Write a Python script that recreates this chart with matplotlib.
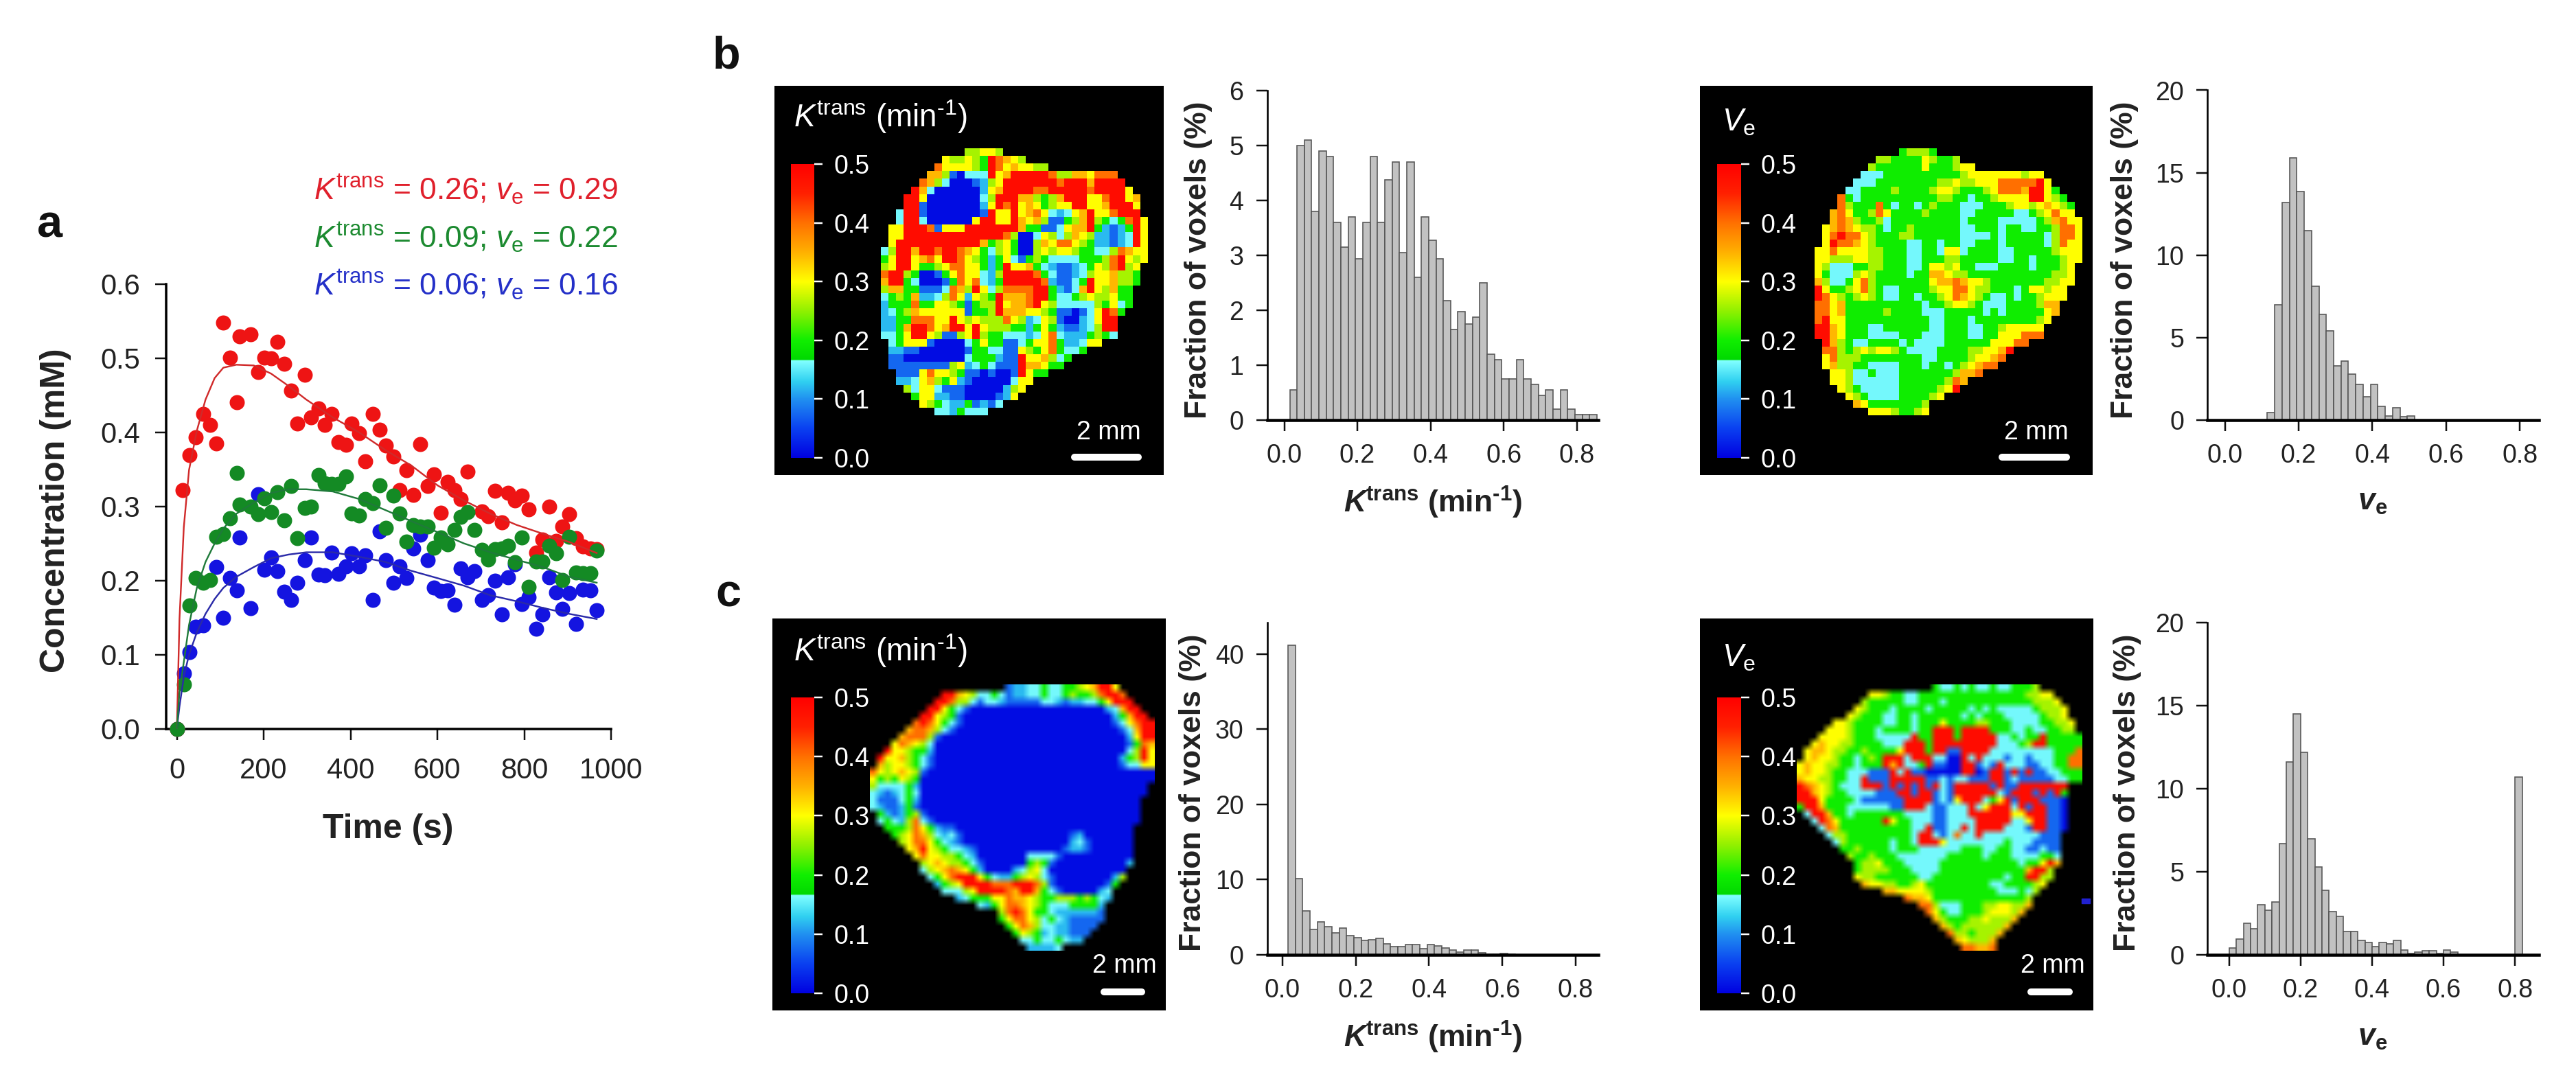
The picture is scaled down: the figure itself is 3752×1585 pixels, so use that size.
import matplotlib

matplotlib.use("Agg")
import matplotlib.pyplot as plt
import numpy as np
from matplotlib.cm import ScalarMappable
from matplotlib.colors import LinearSegmentedColormap, Normalize

plt.rcParams["font.family"] = ["Liberation Sans", "DejaVu Sans"]
plt.rcParams["mathtext.fontset"] = "custom"
plt.rcParams["mathtext.rm"] = "Liberation Sans"
plt.rcParams["mathtext.it"] = "Liberation Sans:italic"
plt.rcParams["mathtext.bf"] = "Liberation Sans:bold"
plt.rcParams["mathtext.bfit"] = "Liberation Sans:italic:bold"

WIDTH, HEIGHT = 3752, 1585
PT = 0.72  # points per image pixel at dpi=100

# panel a: measured concentration
TIME_RED = [0, 13, 29, 44, 60, 77, 91, 107, 122, 138, 144, 170, 187, 202, 217, 232, 248, 263, 278, 294, 309, 326, 341, 357, 372, 389, 403, 419, 434, 451, 467, 482, 498, 513, 529, 545, 560, 577, 592, 608, 623, 639, 654, 670, 702, 717, 732, 748, 763, 779, 794, 810, 827, 842, 857, 873, 888, 903, 919, 935, 952, 967]
CONC_RED = [0, 0.322, 0.369, 0.393, 0.425, 0.41, 0.385, 0.548, 0.501, 0.44, 0.529, 0.532, 0.481, 0.501, 0.5, 0.522, 0.492, 0.456, 0.412, 0.477, 0.42, 0.432, 0.41, 0.425, 0.387, 0.383, 0.412, 0.399, 0.361, 0.425, 0.403, 0.382, 0.367, 0.322, 0.349, 0.315, 0.384, 0.327, 0.343, 0.291, 0.333, 0.322, 0.31, 0.347, 0.293, 0.287, 0.321, 0.278, 0.318, 0.308, 0.314, 0.296, 0.238, 0.255, 0.3, 0.253, 0.273, 0.289, 0.257, 0.246, 0.243, 0.242]
TIME_GREEN = [0, 16, 29, 44, 60, 77, 91, 107, 122, 138, 144, 170, 187, 202, 217, 232, 248, 263, 278, 294, 309, 326, 341, 357, 372, 389, 403, 419, 434, 451, 467, 482, 498, 513, 529, 545, 560, 577, 592, 608, 623, 639, 654, 670, 685, 702, 717, 732, 748, 763, 779, 794, 810, 827, 842, 857, 873, 888, 903, 919, 935, 952, 967]
CONC_GREEN = [0, 0.06, 0.166, 0.203, 0.197, 0.201, 0.259, 0.263, 0.284, 0.345, 0.302, 0.3, 0.289, 0.311, 0.292, 0.319, 0.281, 0.327, 0.257, 0.298, 0.3, 0.342, 0.331, 0.33, 0.33, 0.34, 0.29, 0.288, 0.31, 0.304, 0.328, 0.271, 0.314, 0.29, 0.252, 0.275, 0.273, 0.273, 0.244, 0.258, 0.249, 0.268, 0.286, 0.292, 0.268, 0.241, 0.228, 0.242, 0.243, 0.247, 0.225, 0.258, 0.191, 0.226, 0.226, 0.247, 0.237, 0.201, 0.259, 0.211, 0.21, 0.21, 0.24]
TIME_BLUE = [0, 16, 29, 44, 60, 91, 107, 122, 138, 144, 170, 187, 202, 217, 232, 248, 263, 278, 294, 309, 326, 341, 357, 372, 389, 403, 419, 434, 451, 467, 482, 498, 513, 529, 545, 560, 577, 592, 608, 623, 639, 654, 670, 685, 702, 717, 732, 748, 763, 779, 794, 810, 827, 842, 857, 873, 888, 903, 919, 935, 952, 967]
CONC_BLUE = [0, 0.075, 0.103, 0.138, 0.139, 0.218, 0.15, 0.203, 0.187, 0.258, 0.163, 0.316, 0.214, 0.231, 0.213, 0.185, 0.174, 0.197, 0.227, 0.258, 0.208, 0.207, 0.238, 0.209, 0.219, 0.237, 0.219, 0.234, 0.174, 0.266, 0.227, 0.197, 0.219, 0.203, 0.243, 0.262, 0.227, 0.19, 0.186, 0.187, 0.167, 0.216, 0.204, 0.213, 0.174, 0.18, 0.2, 0.154, 0.204, 0.222, 0.168, 0.177, 0.135, 0.154, 0.204, 0.184, 0.162, 0.183, 0.141, 0.188, 0.187, 0.16]

# panel a: fitted curves
TIME_FIT = [0, 6, 16, 28, 46, 66, 87, 107, 137, 177, 217, 258, 298, 359, 419, 480, 540, 601, 661, 722, 782, 843, 903, 967]
FIT_RED = [0, 0.148, 0.272, 0.349, 0.402, 0.444, 0.473, 0.487, 0.491, 0.49, 0.479, 0.462, 0.444, 0.42, 0.4, 0.376, 0.355, 0.328, 0.308, 0.29, 0.275, 0.263, 0.252, 0.237]
FIT_GREEN = [0, 0.05, 0.09, 0.14, 0.19, 0.225, 0.25, 0.27, 0.29, 0.305, 0.318, 0.323, 0.323, 0.32, 0.31, 0.295, 0.28, 0.265, 0.25, 0.238, 0.228, 0.218, 0.205, 0.197]
FIT_BLUE = [0, 0.03, 0.07, 0.10, 0.13, 0.155, 0.175, 0.19, 0.205, 0.218, 0.23, 0.235, 0.238, 0.238, 0.232, 0.225, 0.213, 0.203, 0.193, 0.18, 0.172, 0.163, 0.155, 0.148]

FIT_LABELS = [
    (r"$\mathit{K}^{\mathrm{trans}}$ = 0.26; $\mathit{v}_{\mathrm{e}}$ = 0.29", "#e0202c"),
    (r"$\mathit{K}^{\mathrm{trans}}$ = 0.09; $\mathit{v}_{\mathrm{e}}$ = 0.22", "#1c8a30"),
    (r"$\mathit{K}^{\mathrm{trans}}$ = 0.06; $\mathit{v}_{\mathrm{e}}$ = 0.16", "#2430c8"),
]

# histograms, one value per 0.02 wide bin
HIST_B_KTRANS_START = 0.025
HIST_B_KTRANS = [0.55, 5.0, 5.1, 3.8, 4.9, 4.8, 3.6, 3.15, 3.7, 2.93, 3.6, 4.8, 3.6, 4.37, 4.7, 3.05, 4.7, 2.6, 3.7, 3.27, 2.93, 2.17, 1.65, 1.97, 1.75, 1.87, 2.5, 1.2, 1.1, 0.75, 0.75, 1.1, 0.75, 0.65, 0.45, 0.55, 0.2, 0.55, 0.2, 0.1, 0.1, 0.1]
HIST_B_VE_START = 0.125
HIST_B_VE = [0.45, 7.0, 13.2, 15.9, 13.85, 11.5, 8.1, 6.4, 5.4, 3.3, 3.6, 2.8, 2.15, 1.4, 2.15, 0.85, 0.25, 0.75, 0.2, 0.25]
HIST_C_KTRANS_START = 0.025
HIST_C_KTRANS = [41.2, 10.1, 5.8, 3.4, 4.4, 3.7, 2.9, 3.6, 2.6, 2.3, 1.9, 2.0, 2.2, 1.5, 1.1, 1.1, 1.4, 1.4, 0.8, 1.4, 1.2, 0.9, 0.6, 0.4, 0.6, 0.6, 0.3, 0.05, 0.05, 0.2, 0.1]
HIST_C_VE_START = 0.01
HIST_C_VE = [0.4, 0.95, 1.9, 1.55, 3.0, 2.7, 3.2, 6.7, 11.6, 14.5, 12.2, 7.0, 5.3, 3.9, 2.6, 2.3, 1.4, 1.4, 0.85, 0.75, 0.5, 0.75, 0.65, 0.85, 0.3, 0.1, 0.15, 0.25, 0.25, 0.1, 0.3, 0.15, 0, 0, 0, 0, 0, 0, 0, 0, 10.7]

# parameter maps: each row is (first column, colour class per voxel)
CLASS_VALUES = [0.01, 0.075, 0.12, 0.16, 0.2, 0.26, 0.3, 0.345, 0.4, 0.48]

MAP_B_KTRANS = [
    (11, "55665"), (8, "65565498765"), (7, "866665498676655"),
    (6, "7751033396799999855776888"), (5, "875300012569999999899979999"),
    (4, "97300000026799998899999899996"), (3, "9960000000359997754579996689967"),
    (3, "9910000000269896764566996679996"), (2, "39910000000196696786323679668999"),
    (2, "399300000069966976751145795434896"), (1, "6699981666999999974411367794212496"),
    (1, "669999999999999" + "8500365357652212396"), (1, "699999999999" + "7456400576886542212396"),
    (0, "35997998998764356400565665443358766"), (0, "46996786998654246314543333444589656"),
    (0, "5699644568866424966743211234658956"), (0, "8995400146866325999984311235667554"),
    (0, "7994300014868324999998211349667554"), (0, "577441113875963588889942137965744"),
    (0, "345472235862654977789943345655644"), (0, "244484466541455967789653333354634"),
    (0, "23457666666144597776654110136984"), (0, "2244888669656555865236510023699"),
    (0, "2247998679969655544246421123599"), (0, "3346996511569544333236832224543"),
    (1, "3466610000346441134668422366"), (1, "22110000001443311654684334"),
    (1, "110000000034442119667534"), (1, "11111111562343111977644"),
    (2, "11168665411010019644"), (2, "223675462100000366"), (3, "5366311100000256"),
    (4, "46622110000126"), (5, "65432241213"), (7, "3324333"),
]

MAP_B_VE = [
    (11, "45554"), (8, "55444465445"), (7, "54444446444566"),
    (6, "333444444444456666666566"), (5, "333" + "44444444" + "55655666" + "88888" + "96"),
    (4, "3344445444456654445688879964"), (3, "843" + "4444444444" + "554434456666" + "99654"),
    (3, "8544484344345444333444566567654"), (2, "78644586444454444334444433456866"),
    (2, "787544534444444443444433333457866"), (1, "6787655434454444443344434433445886"),
    (1, "6898865444554444443333434444435886"), (1, "6988765444433443443344434444435866"),
    (0, "66866665544433443663444433444445666"), (0, "66555665544433444554444433443444566"),
    (0, "6533344554443346656443334444344456"), (0, "6433356544443447765544444444444556"),
    (0, "7533468544444446778766544444445566"), (0, "964456854334444566886554443466566"),
    (0, "986545654334434456876543343445666"), (0, "8867" + "4444444444" + "344566543334444577"),
    (0, "8867" + "44444" + "5" + "4444" + "333" + "44444" + "343" + "44444" + "67"),
    (0, "8966" + "44444444444" + "33" + "444" + "3" + "44444444" + "56"),
    (0, "9976" + "444" + "33" + "444444" + "33" + "444" + "33" + "44" + "566666"),
    (0, "9976" + "444" + "3333" + "444" + "333" + "444" + "33" + "44" + "666888"),
    (1, "975433444434333344444466688"), (1, "8854565665433334444556679"),
    (1, "68555" + "44444444" + "33" + "4444" + "56678"), (1, "67554433334443443456788"),
    (2, "66533433344444445778"), (2, "665333333444444587"), (3, "6543333344444569"),
    (4, "6543333444456"), (5, "7644444445"), (7, "66654456"),
]

MAP_C_KTRANS = [
    (19, "1223343344567996"), (10, "99765334312233433454458998"),
    (9, "9985531332111113321223346999"), (8, "996431" + "0" * 19 + "23799"),
    (7, "996541" + "0" * 21 + "24799"), (6, "8986431" + "0" * 21 + "136899"),
    (5, "7887531" + "0" * 23 + "13799"), (4, "788851" + "0" * 26 + "2699"),
    (3, "687653" + "0" * 27 + "1487"), (2, "9665442" + "0" * 27 + "3596"),
    (1, "96675431" + "0" * 26 + "24596"), (1, "75665431" + "0" * 26 + "13366"),
    (0, "86567651" + "0" * 32), (0, "6454654" + "0" * 33), (0, "5333342" + "0" * 32),
    (0, "3212343" + "0" * 32), (0, "3111342" + "0" * 31), (0, "3211241" + "0" * 31),
    (1, "4212451" + "0" * 30), (1, "34325831" + "0" * 29), (2, "4445864211" + "0" * 25),
    (3, "4568753231" + "0" * 15 + "12" + "0" * 7), (4, "568864321" + "0" * 15 + "231" + "0" * 6),
    (5, "6796543321" + "0" * 12 + "1221" + "0" * 6), (6, "686655432" + "0" * 7 + "33331" + "0" * 10),
    (7, "567655431" + "0" * 6 + "4541" + "0" * 10 + "2"), (7, "356787642" + "0000" + "23563" + "0" * 11),
    (8, "346899964322456531" + "0" * 8 + "25"), (9, "24569999888999851" + "0" * 7 + "14"),
    (10, "33356999987997431" + "00000" + "23"), (12, "2344466877654455545432"),
    (15, "324688765433344442"), (18, "589864432222221"), (18, "468865343211111"),
    (19, "4687533221111"), (20, "46542322111"), (21, "334334322"), (22, "22223"),
]

MAP_C_VE = [
    (19, "433434334334445"), (10, "6654433444" + "444444444444" + "5566"),
    (9, "5" + "44444" + "33" + "444" + "3" + "444444444444" + "5556"),
    (8, "65444" + "3" + "4444" + "3" + "44444" + "3" + "4" + "3" + "4" + "33333" + "4" + "555" + "6"),
    (7, "6544433443444444343444333334556"), (5, "6654444334434446444455444333344556"),
    (4, "6665" + "444" + "3" + "4444" + "3" + "44" + "99949999" + "444" + "33" + "4" + "33" + "44" + "55"),
    (3, "66665" + "444" + "33333" + "9" + "44" + "999" + "4" + "99999" + "33" + "4" + "3" + "44" + "9" + "44444"),
    (2, "676655" + "4444" + "333" + "999" + "4" + "999999999" + "333" + "45" + "99" + "44444"),
    (1, "677655445" + "4444" + "6" + "999" + "4" + "99" + "11" + "9999" + "333333333" + "444" + "8"),
    (1, "676654434" + "54" + "999" + "3" + "999" + "33" + "00" + "939" + "333" + "1331" + "333" + "44" + "88"),
    (0, "676655443" + "444" + "979" + "334" + "9" + "11" + "00" + "99" + "131" + "9" + "333" + "11" + "33" + "44" + "88"),
    (0, "6766544333" + "111" + "939" + "11" + "00000" + "99" + "01" + "99" + "1" + "9" + "1" + "9" + "11" + "33" + "444"),
    (0, "766554433" + "9" + "111" + "99999" + "11" + "3" + "1" + "33" + "111" + "99" + "1" + "3" + "11111" + "33" + "44"),
    (0, "987654333" + "999" + "1" + "9" + "1" + "9" + "1" + "9" + "1" + "9" + "3" + "1" + "99999" + "1" + "9" + "11" + "9999999"),
    (0, "9976544" + "3333" + "111" + "99" + "1" + "99" + "1" + "3" + "1" + "999999" + "3" + "1" + "999" + "1" + "9" + "1" + "9" + "4"),
    (0, "9996" + "4444" + "3" + "111111" + "9999" + "1" + "3" + "1" + "6" + "999" + "3" + "4" + "6" + "9" + "1" + "999" + "111" + "0"),
    (0, "4997" + "444" + "333333" + "11" + "999" + "3" + "11" + "333" + "9" + "3" + "6" + "999" + "3" + "9" + "1" + "99" + "11" + "0"),
    (1, "3997" + "44" + "3" + "4444444" + "3333" + "11" + "333" + "999999" + "66" + "999" + "11" + "0"),
    (2, "3986" + "444444" + "96" + "44" + "333" + "11" + "3333" + "99999" + "33" + "6" + "99" + "11" + "0"),
    (3, "387" + "4444444444" + "33" + "9" + "11" + "33" + "9" + "3" + "9999" + "333" + "1" + "99" + "11" + "0"),
    (4, "355" + "444444444" + "3" + "99" + "3" + "1" + "3" + "8" + "33" + "9" + "33333333" + "111"),
    (5, "35" + "444444" + "3" + "44" + "3" + "999" + "6" + "33333333" + "4" + "333" + "1111"),
    (6, "445" + "4444" + "3" + "444" + "333333" + "444" + "33" + "44" + "33" + "11" + "3" + "11"),
    (7, "5445" + "444" + "3333333" + "44444" + "3" + "444" + "3333" + "44" + "3"),
    (8, "4556" + "444" + "33333" + "44444444444" + "3" + "44" + "697"),
    (8, "45555" + "444" + "3333" + "444444444444" + "7995"),
    (8, "655" + "444444" + "33" + "4444444444" + "3" + "44" + "9955"),
    (9, "76655" + "44" + "56" + "444444444" + "33" + "4444" + "56"),
    (12, "7766665" + "444444444" + "333" + "4" + "3" + "5"),
    (15, "8776" + "4444444444444" + "5"), (17, "8853334445566557"), (18, "86433444566657"),
    (19, "754445565557"), (20, "7545555557"), (21, "85545557"), (22, "765557"), (23, "88778"),
]

PANEL_TICKS = [0.0, 0.1, 0.2, 0.3, 0.4, 0.5]
HIST_XTICKS = [0.0, 0.2, 0.4, 0.6, 0.8]

MAP_CMAP = LinearSegmentedColormap.from_list(
    "perfusion",
    [
        (0.0, "#0000e0"), (0.10, "#0a40f0"), (0.20, "#2090f0"), (0.26, "#30d0f0"),
        (0.33, "#80ffff"), (0.335, "#00d800"), (0.40, "#10ee00"), (0.50, "#90f000"),
        (0.60, "#ffff00"), (0.70, "#ffb000"), (0.80, "#ff7000"), (0.90, "#ff2000"),
        (1.0, "#ff0000"),
    ],
    N=1024,
)
MAP_CMAP.set_bad("black")
HYPHEN_ONE = "\u20101"
KTRANS_LABEL = r"$\mathit{K}^{\mathrm{trans}}$ (min$^{\mathrm{" + HYPHEN_ONE + r"}}$)"
KTRANS_LABEL_BOLD = r"$\mathbfit{K}^{\mathbf{trans}}$ $\mathbf{(min}^{\mathbf{" + HYPHEN_ONE + r"}}\mathbf{)}$"
VE_LABEL_BOLD = r"$\mathbfit{v}_{\mathbf{e}}$"
VE_LABEL = r"$\mathit{V}_{\mathrm{e}}$"


def px_axes(fig, left, top, right, bottom):
    """Add axes from image pixel edges (y counted from the top)."""
    return fig.add_axes(
        [left / WIDTH, 1 - bottom / HEIGHT, (right - left) / WIDTH, (bottom - top) / HEIGHT]
    )


def fig_text(fig, x, y, text, **kwargs):
    kwargs.setdefault("ha", "center")
    kwargs.setdefault("va", "center")
    fig.text(x / WIDTH, 1 - y / HEIGHT, text, **kwargs)


def decode_map(rows, n_cols):
    grid = np.full((len(rows), n_cols), np.nan)
    for r, (start, codes) in enumerate(rows):
        values = [CLASS_VALUES[int(c)] for c in codes][: n_cols - start]
        grid[r, start : start + len(values)] = values
    return grid


def style_axis(ax, x_lw=3.0, y_lw=3.0, tick_len=16, size=27):
    for side in ("top", "right"):
        ax.spines[side].set_visible(False)
    ax.spines["left"].set_linewidth(y_lw * PT)
    ax.spines["bottom"].set_linewidth(x_lw * PT)
    ax.tick_params(length=tick_len * PT, width=2.5 * PT, labelsize=size, pad=13, color="#111111", labelcolor="#222222")


def draw_concentration(fig):
    ax = px_axes(fig, 242, 413.6, 890, 1061.6)
    series = [
        (TIME_BLUE, CONC_BLUE, TIME_FIT, FIT_BLUE, "#1414e0", "#2a2aa8"),
        (TIME_RED, CONC_RED, TIME_FIT, FIT_RED, "#ee1414", "#d02a2a"),
        (TIME_GREEN, CONC_GREEN, TIME_FIT, FIT_GREEN, "#148a24", "#1f7a3a"),
    ]
    for t, c, t_fit, c_fit, dot_color, line_color in series:
        ax.scatter(t, c, s=(22 * PT) ** 2, color=dot_color, linewidths=0, zorder=3, clip_on=False)
        ax.plot(t_fit, c_fit, color=line_color, lw=2.4 * PT, zorder=4)
    ax.set_xlim(-24.7, 1000)
    ax.set_ylim(0, 0.6)
    ax.set_xticks([0, 200, 400, 600, 800, 1000])
    ax.set_yticks([0, 0.1, 0.2, 0.3, 0.4, 0.5, 0.6])
    ax.set_yticklabels(["0.0", "0.1", "0.2", "0.3", "0.4", "0.5", "0.6"])
    style_axis(ax, x_lw=3.5, y_lw=3.5, size=30)
    ax.tick_params(axis="y", pad=16)
    ax.tick_params(axis="x", pad=18)

    fig_text(fig, 81, 744, "Concentration (mM)", rotation=90, fontsize=36, fontweight="bold", color="#222222")
    fig_text(fig, 565, 1208, "Time (s)", fontsize=36, fontweight="bold", color="#222222")
    for (label, color), y in zip(FIT_LABELS, [276, 346, 415]):
        fig_text(fig, 900, y, label, ha="right", fontsize=32, color=color)


def draw_map_panel(fig, rect, map_rect, rows, n_cols, bar_rect, title, title_xy, bar_xy, scale_label_xy, smooth=False):
    left, top, right, bottom = rect
    ax = px_axes(fig, left, top, right, bottom)
    ax.set_facecolor("black")
    grid = decode_map(rows, n_cols)
    x0, y0, x1, y1 = map_rect
    ax.imshow(
        np.ma.masked_invalid(grid), cmap=MAP_CMAP, vmin=0, vmax=0.5, extent=(x0, x1, y1, y0), aspect="auto",
        interpolation="bilinear" if smooth else "nearest", interpolation_stage="rgba",
    )
    ax.set_xlim(left, right)
    ax.set_ylim(bottom, top)
    ax.set_xticks([])
    ax.set_yticks([])
    for spine in ax.spines.values():
        spine.set_visible(False)

    ax.text(title_xy[0], title_xy[1], title, color="white", fontsize=33, ha="left", va="center")
    ax.plot(bar_xy[:2], [bar_xy[2], bar_xy[2]], color="white", lw=10 * PT, solid_capstyle="round")
    ax.text(scale_label_xy[0], scale_label_xy[1], "2 mm", color="white", fontsize=27, ha="center", va="center")

    cax = px_axes(fig, *bar_rect)
    bar = fig.colorbar(ScalarMappable(Normalize(0, 0.5), MAP_CMAP), cax=cax)
    bar.outline.set_visible(False)
    bar.set_ticks(PANEL_TICKS)
    bar.set_ticklabels([f"{t:.1f}" for t in PANEL_TICKS])
    cax.tick_params(colors="white", labelcolor="white", length=12 * PT, width=2.5 * PT, labelsize=27, pad=12)


def draw_histogram(fig, rect, start, values, xlim, ylim, yticks, xlabel, xlabel_xy, ylabel_xy):
    ax = px_axes(fig, *rect)
    centers = start + 0.02 * np.arange(len(values))
    ax.bar(centers, values, width=0.02, color="#c2c2c2", edgecolor="#555555", linewidth=1.6 * PT)
    ax.set_xlim(*xlim)
    ax.set_ylim(*ylim)
    ax.set_xticks(HIST_XTICKS)
    ax.set_xticklabels([f"{t:.1f}" for t in HIST_XTICKS])
    ax.set_yticks(yticks)
    style_axis(ax, x_lw=4.5, y_lw=2.6)
    fig_text(fig, xlabel_xy[0], xlabel_xy[1], xlabel, fontsize=32, color="#222222")
    fig_text(fig, ylabel_xy[0], ylabel_xy[1], "Fraction of voxels (%)", rotation=90, fontsize=32, fontweight="bold", color="#222222")


def main():
    fig = plt.figure(figsize=(WIDTH / 100, HEIGHT / 100), dpi=100, facecolor="white")

    fig_text(fig, 73, 328, "a", fontsize=48, fontweight="bold", color="#111111")
    fig_text(fig, 1058, 83, "b", fontsize=48, fontweight="bold", color="#111111")
    fig_text(fig, 1061, 866, "c", fontsize=48, fontweight="bold", color="#111111")

    draw_concentration(fig)

    draw_map_panel(fig, (1128, 125, 1695, 692), (1283, 217, 1672, 605), MAP_B_KTRANS, 35, (1152, 239, 1186, 667),
                   KTRANS_LABEL, (1156, 170), (1565, 1658, 666), (1615, 630))
    draw_map_panel(fig, (2476, 125, 3048, 692), (2643, 217, 3033, 605), MAP_B_VE, 35, (2501, 239, 2536, 667),
                   VE_LABEL, (2508, 178), (2916, 3010, 666), (2966, 630))
    draw_map_panel(fig, (1125, 901, 1698, 1472), (1267, 997, 1682, 1385), MAP_C_KTRANS, 40, (1152, 1016, 1186, 1447),
                   KTRANS_LABEL, (1156, 948), (1608, 1663, 1445), (1638, 1407), smooth=True)
    draw_map_panel(fig, (2476, 901, 3049, 1472), (2617, 997, 3033, 1385), MAP_C_VE, 40, (2501, 1016, 2536, 1447),
                   VE_LABEL, (2508, 958), (2958, 3014, 1445), (2990, 1407), smooth=True)
    # stray voxel right of the tumour in the lower v_e map
    fig.add_artist(plt.Rectangle((3032 / WIDTH, 1 - 1316 / HEIGHT), 12 / WIDTH, 7 / HEIGHT, transform=fig.transFigure, color="#2020d0", zorder=10))

    draw_histogram(fig, (1845.5, 131.5, 2328, 612), HIST_B_KTRANS_START, HIST_B_KTRANS, (-0.047, 0.859), (0, 6),
                   [0, 1, 2, 3, 4, 5, 6], KTRANS_LABEL_BOLD, (2087, 732), (1745, 379))
    draw_histogram(fig, (3215, 131.5, 3697.5, 612), HIST_B_VE_START, HIST_B_VE, (-0.0477, 0.851), (0, 20),
                   [0, 5, 10, 15, 20], VE_LABEL_BOLD, (3456, 732), (3094, 379))
    draw_histogram(fig, (1845.5, 907, 2328, 1391), HIST_C_KTRANS_START, HIST_C_KTRANS, (-0.042, 0.862), (0, 44.2),
                   [0, 10, 20, 30, 40], KTRANS_LABEL_BOLD, (2087, 1511), (1737, 1155))
    draw_histogram(fig, (3215, 907, 3697.5, 1391), HIST_C_VE_START, HIST_C_VE, (-0.061, 0.866), (0, 20),
                   [0, 5, 10, 15, 20], VE_LABEL_BOLD, (3456, 1511), (3098, 1155))

    fig.savefig("out.png", dpi=100, facecolor="white")
    plt.close(fig)


if __name__ == "__main__":
    main()
